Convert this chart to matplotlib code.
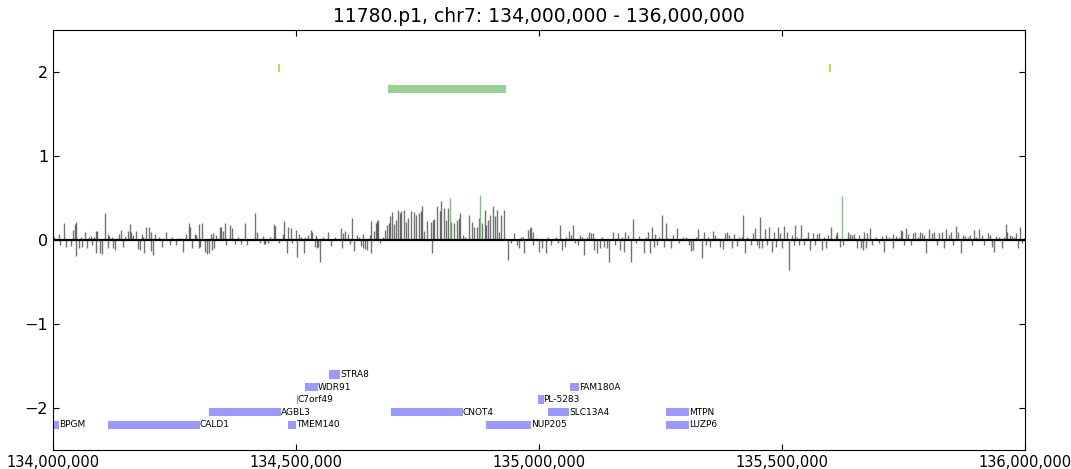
import numpy as np
import matplotlib
matplotlib.use("Agg")
import matplotlib.pyplot as plt
from matplotlib.ticker import FuncFormatter

title = "11780.p1, chr7: 134,000,000 - 136,000,000"
chrom_start = 134000000
chrom_end = 136000000

# probe log ratios: (position in Mb, value)
probes = [
    (134.003, 0.03), (134.012, 0.07), (134.015, -0.06), (134.023, 0.20), (134.027, -0.08),
    (134.038, -0.07), (134.041, 0.12), (134.045, 0.19), (134.047, 0.22), (134.048, -0.19),
    (134.053, -0.10), (134.058, 0.04), (134.059, -0.08), (134.065, 0.10), (134.069, -0.09),
    (134.074, 0.04), (134.079, 0.05), (134.080, -0.06), (134.084, 0.04), (134.088, 0.11),
    (134.089, -0.16), (134.091, 0.11), (134.096, -0.16), (134.101, -0.17), (134.106, 0.32),
    (134.113, 0.07), (134.114, -0.10), (134.116, 0.05), (134.122, 0.04), (134.123, -0.10),
    (134.127, -0.12), (134.132, 0.02), (134.135, 0.07), (134.139, 0.12), (134.144, -0.08),
    (134.149, 0.05), (134.154, 0.11), (134.158, 0.19), (134.161, 0.10), (134.164, 0.06),
    (134.171, 0.11), (134.175, -0.11), (134.178, -0.12), (134.182, 0.07), (134.185, 0.04),
    (134.188, -0.16), (134.192, 0.16), (134.197, 0.15), (134.201, 0.10), (134.202, -0.13),
    (134.206, -0.18), (134.209, 0.07), (134.219, 0.04), (134.225, -0.08), (134.233, 0.10),
    (134.240, -0.06), (134.245, 0.03), (134.252, -0.06), (134.259, 0.02), (134.267, -0.14),
    (134.274, 0.07), (134.279, 0.20), (134.282, 0.16), (134.286, -0.10), (134.291, 0.07),
    (134.295, 0.06), (134.300, 0.19), (134.301, -0.10), (134.303, -0.08), (134.307, 0.20),
    (134.312, -0.14), (134.316, -0.17), (134.320, -0.16), (134.325, 0.07), (134.326, -0.12),
    (134.329, 0.08), (134.332, -0.10), (134.336, 0.06), (134.343, 0.16), (134.346, 0.16),
    (134.349, 0.11), (134.353, 0.20), (134.356, -0.06), (134.363, 0.18), (134.369, 0.14),
    (134.375, -0.05), (134.380, 0.04), (134.387, -0.05), (134.394, 0.20), (134.399, -0.06),
    (134.415, 0.32), (134.420, 0.09), (134.425, -0.04), (134.432, 0.05), (134.433, -0.05),
    (134.435, -0.05), (134.442, -0.04), (134.447, 0.04), (134.454, 0.19), (134.456, 0.17),
    (134.464, -0.04), (134.473, 0.07), (134.476, 0.23), (134.481, -0.16), (134.484, 0.15),
    (134.490, 0.14), (134.491, -0.04), (134.499, 0.12), (134.502, -0.20), (134.505, 0.07),
    (134.510, 0.03), (134.516, -0.16), (134.519, 0.04), (134.524, 0.06), (134.530, 0.12),
    (134.532, 0.10), (134.538, -0.08), (134.541, 0.06), (134.542, -0.09), (134.546, -0.08),
    (134.550, -0.26), (134.555, 0.03), (134.565, 0.10), (134.572, -0.07), (134.580, 0.03),
    (134.593, 0.14), (134.594, -0.09), (134.596, 0.08), (134.601, 0.11), (134.606, 0.07),
    (134.610, -0.05), (134.615, 0.26), (134.620, -0.13), (134.625, 0.06), (134.630, 0.03),
    (134.634, -0.07), (134.637, 0.07), (134.638, -0.09), (134.642, -0.11), (134.646, -0.12),
    (134.651, 0.06), (134.654, -0.15), (134.655, 0.23), (134.660, 0.11), (134.665, 0.20),
    (134.667, 0.23), (134.669, 0.24), (134.673, -0.04), (134.678, 0.04), (134.683, 0.12),
    (134.687, 0.18), (134.690, 0.20), (134.694, 0.28), (134.697, 0.33), (134.701, 0.19),
    (134.706, 0.24), (134.709, 0.36), (134.713, 0.32), (134.716, 0.35), (134.721, 0.36),
    (134.726, 0.22), (134.730, 0.26), (134.736, 0.35), (134.742, 0.33), (134.747, 0.30),
    (134.752, 0.32), (134.756, 0.34), (134.758, 0.41), (134.764, 0.11), (134.769, 0.23),
    (134.778, 0.22), (134.779, -0.15), (134.781, 0.24), (134.784, 0.25), (134.790, 0.40),
    (134.795, 0.34), (134.798, 0.46),
    (134.804, 0.38), (134.809, 0.24), (134.812, 0.38), (134.819, 0.22), (134.824, 0.20),
    (134.830, 0.24), (134.835, 0.26), (134.838, 0.32), (134.844, 0.06), (134.848, 0.04),
    (134.855, 0.30), (134.862, 0.22), (134.865, 0.16), (134.872, 0.16), (134.876, 0.26),
    (134.882, 0.20), (134.889, 0.36), (134.891, 0.18), (134.894, 0.24), (134.899, 0.30),
    (134.904, 0.40), (134.908, 0.28), (134.913, 0.36), (134.917, 0.10), (134.922, 0.30),
    (134.928, 0.36), (134.935, -0.24), (134.942, -0.04), (134.949, 0.08), (134.954, -0.06),
    (134.959, -0.10), (134.963, 0.04), (134.966, 0.04), (134.969, -0.16), (134.976, 0.12),
    (134.980, 0.14), (134.983, 0.16), (134.987, 0.10), (134.988, -0.06), (134.993, 0.02),
    (135.000, -0.14), (135.006, -0.10), (135.014, -0.16), (135.019, 0.04), (135.024, -0.06),
    (135.035, 0.04), (135.038, -0.04), (135.043, 0.18), (135.047, -0.12), (135.052, -0.08),
    (135.056, 0.04), (135.061, 0.11), (135.065, 0.06), (135.070, 0.18), (135.074, -0.04),
    (135.079, -0.06), (135.084, 0.06), (135.088, 0.04), (135.093, -0.18), (135.098, 0.04),
    (135.103, 0.10), (135.106, 0.08), (135.110, 0.08), (135.113, -0.12), (135.118, -0.16),
    (135.124, -0.10), (135.129, 0.04), (135.134, -0.08), (135.139, -0.10), (135.144, -0.26),
    (135.151, 0.10), (135.156, -0.06), (135.161, 0.08), (135.167, -0.12), (135.170, 0.04),
    (135.175, -0.14), (135.177, 0.10), (135.182, 0.06), (135.189, -0.26), (135.193, 0.25),
    (135.199, -0.04),
    (135.206, 0.05), (135.215, -0.16), (135.220, 0.04), (135.224, 0.10), (135.228, -0.16),
    (135.232, 0.15), (135.235, -0.08), (135.239, 0.07), (135.242, -0.06), (135.247, 0.04),
    (135.252, 0.30), (135.256, -0.08), (135.261, 0.20), (135.265, 0.02), (135.271, -0.10),
    (135.276, 0.06), (135.283, 0.14), (135.288, -0.04), (135.295, 0.04), (135.302, 0.03),
    (135.307, -0.06), (135.312, -0.13), (135.317, -0.12), (135.322, 0.04), (135.327, 0.13),
    (135.334, -0.22), (135.338, 0.09), (135.343, -0.06), (135.348, 0.04), (135.352, -0.08),
    (135.357, 0.11), (135.361, 0.06), (135.367, 0.02), (135.372, -0.08), (135.377, -0.11),
    (135.382, 0.08), (135.386, 0.09), (135.391, 0.06), (135.396, -0.10), (135.401, 0.07),
    (135.407, -0.07), (135.411, 0.04), (135.416, 0.04), (135.420, 0.30), (135.424, -0.16),
    (135.428, 0.04), (135.435, -0.06), (135.439, 0.08), (135.444, 0.14), (135.448, -0.06),
    (135.451, -0.10), (135.455, 0.27), (135.459, -0.10), (135.464, 0.13), (135.468, -0.06),
    (135.473, 0.15), (135.478, -0.14), (135.482, 0.09), (135.487, -0.08), (135.490, 0.15),
    (135.496, 0.08), (135.500, -0.10), (135.504, 0.17), (135.509, 0.10), (135.514, -0.36),
    (135.519, 0.06), (135.523, -0.06), (135.526, 0.18), (135.530, 0.04), (135.535, -0.06),
    (135.539, 0.18), (135.544, -0.06), (135.548, 0.02), (135.553, 0.10), (135.557, -0.12),
    (135.562, 0.08), (135.567, -0.06), (135.571, 0.07), (135.576, 0.08), (135.581, -0.12),
    (135.585, 0.04), (135.589, -0.10), (135.594, 0.06), (135.600, 0.15),
    (135.610, 0.06), (135.613, 0.10), (135.618, -0.08), (135.625, -0.06), (135.634, 0.10),
    (135.639, 0.07), (135.643, 0.06), (135.648, 0.07), (135.653, -0.10), (135.657, 0.06),
    (135.661, -0.10), (135.665, -0.12), (135.668, 0.09), (135.672, -0.10), (135.675, 0.08),
    (135.680, 0.14), (135.685, -0.06), (135.692, 0.04), (135.699, -0.04), (135.705, 0.05),
    (135.709, -0.14), (135.714, 0.06), (135.720, 0.04), (135.727, 0.07), (135.728, -0.09),
    (135.733, 0.05), (135.739, 0.04), (135.744, 0.12), (135.747, 0.11), (135.750, -0.06),
    (135.755, 0.14), (135.759, 0.07), (135.764, -0.06), (135.768, 0.08), (135.773, 0.09),
    (135.778, 0.04), (135.783, 0.09), (135.787, 0.08), (135.792, 0.06), (135.796, -0.16),
    (135.802, 0.13), (135.807, 0.08), (135.812, 0.10), (135.817, -0.06), (135.822, 0.08),
    (135.828, 0.10), (135.833, -0.10), (135.837, 0.13), (135.842, 0.06), (135.846, 0.09),
    (135.851, -0.06), (135.857, 0.17), (135.862, 0.10), (135.867, -0.16), (135.872, 0.06),
    (135.876, 0.05), (135.881, 0.04), (135.885, 0.06), (135.890, -0.06), (135.894, 0.12),
    (135.899, 0.04), (135.905, 0.13), (135.910, 0.06), (135.915, -0.06), (135.922, 0.08),
    (135.927, 0.06), (135.931, -0.08), (135.935, -0.14), (135.940, 0.05), (135.946, 0.04),
    (135.951, -0.09), (135.956, 0.04), (135.959, 0.19), (135.963, 0.10), (135.968, 0.06),
    (135.972, 0.05), (135.977, 0.04), (135.980, 0.08), (135.985, -0.10), (135.988, 0.16),
    (135.992, -0.04), (135.997, 0.02),
]

# highlighted probes (green)
green_pos = [134.816, 134.879, 135.623]
green_val = [0.50, 0.53, 0.52]

# called segment and small marks at the top
segment_start = 134.689
segment_end = 134.931
segment_y = 1.80
mark_pos = [134.4645, 135.597]
mark_y = 2.05

# genes: name, start, end, row
gene_names = ["BPGM", "CALD1", "AGBL3", "TMEM140", "C7orf49", "WDR91", "STRA8",
              "CNOT4", "NUP205", "PL-5283", "SLC13A4", "FAM180A", "MTPN", "LUZP6"]
gene_start = [133.990, 134.113, 134.321, 134.483, 134.501, 134.518, 134.567,
              134.696, 134.891, 134.997, 135.017, 135.064, 135.261, 135.261]
gene_end = [134.012, 134.302, 134.469, 134.500, 134.503, 134.544, 134.591,
            134.843, 134.984, 135.009, 135.061, 135.082, 135.309, 135.309]
gene_row = [-2.2, -2.2, -2.05, -2.2, -1.9, -1.75, -1.6,
            -2.05, -2.2, -1.9, -2.05, -1.75, -2.05, -2.2]

pos = np.array([p for p, v in probes]) * 1e6
val = np.array([v for p, v in probes])

fig = plt.figure(figsize=(10.71, 4.69), dpi=100)
ax = fig.add_axes([0.0495, 0.0405, 0.908, 0.8955])

ax.vlines(pos, 0, val, color="black", alpha=0.55, lw=1.0)
ax.vlines(np.array(green_pos) * 1e6, 0, green_val, color="#7fc27f", lw=1.0)
ax.axhline(0, color="black", lw=1.6)

ax.barh(segment_y, (segment_end - segment_start) * 1e6, left=segment_start * 1e6,
        height=0.1, color="#98d096", edgecolor="none")
ax.vlines(np.array(mark_pos) * 1e6, mark_y - 0.05, mark_y + 0.05, color="#cfd64a", lw=1.5)

for name, s, e, r in zip(gene_names, gene_start, gene_end, gene_row):
    ax.barh(r, (e - s) * 1e6, left=s * 1e6, height=0.1, color="#9999ff", edgecolor="none")
    ax.text(e * 1e6, r, name, fontsize=6.5, ha="left", va="center")

ax.set_xlim(chrom_start, chrom_end)
ax.set_ylim(-2.5, 2.5)
ax.set_yticks([-2, -1, 0, 1, 2])
ax.set_xticks(np.arange(chrom_start, chrom_end + 1, 500000))
ax.xaxis.set_major_formatter(FuncFormatter(lambda x, p: f"{int(x):,}"))
ax.tick_params(direction="in", top=True, right=True, length=4)
ax.tick_params(axis="x", labelsize=10.5)
ax.tick_params(axis="y", labelsize=11.5)
ax.set_title(title, fontsize=13.5)

fig.savefig("out.png", dpi=100)
